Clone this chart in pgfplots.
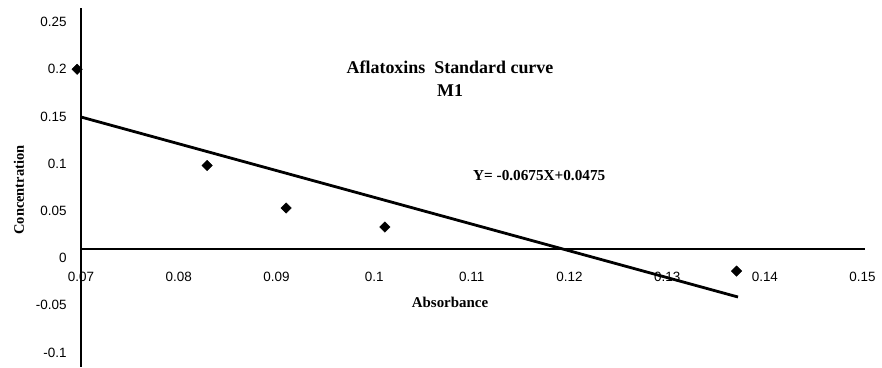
\documentclass[border=0pt]{standalone}
\usepackage{fontspec}
\setmainfont{Liberation Serif}
\newfontfamily\arialf{Liberation Sans}
\usepackage{pgfplots}
\pgfplotsset{compat=1.18}
\begin{document}
\begin{tikzpicture}
\begin{axis}[
  width=882bp, height=367bp, scale only axis,
  xmin=0.06171, xmax=0.15198, ymin=-0.11547, ymax=0.2733,
  axis line style={draw=none}, major tick length=0pt,
  clip=false,
  xtick={0.07,0.08,0.09,0.1,0.11,0.12,0.13,0.14,0.15},
  xticklabels={0.07,0.08,0.09,0.1,0.11,0.12,0.13,0.14,0.15},
  ytick={-0.1,-0.05,0,0.05,0.1,0.15,0.2,0.25},
  yticklabels={-0.1,-0.05,0,0.05,0.1,0.15,0.2,0.25},
  xticklabel style={font=\arialf\fontsize{13.5}{14}\selectfont, anchor=center, yshift=90bp},
  yticklabel style={font=\arialf\fontsize{13.5}{14}\selectfont, anchor=east, xshift=70bp},
]
% axes lines
\draw[line width=1.8bp] (axis cs:0.07,0.2648) -- (axis cs:0.07,-0.1155);
\draw[line width=1.8bp] (axis cs:0.07,0.0095) -- (axis cs:0.15025,0.0095);
% trend line
\addplot[black, line width=2.8bp, no marks] coordinates {(0.07,0.1494) (0.13725,-0.0413)};
% data points
\addplot[only marks, mark=square*, mark size=3.7bp, mark options={rotate=45, fill=black, draw=black}]
  coordinates {(0.0696,0.2) (0.0829,0.098) (0.0910,0.053) (0.1011,0.0328) (0.1371,-0.0138)};
% texts
\node[font=\bfseries\fontsize{18}{23}\selectfont, align=center] at (axis cs:0.10777,0.1901) {Aflatoxins\ \ Standard curve\\M1};
\node[font=\bfseries\fontsize{15.3}{17}\selectfont, anchor=west, inner sep=0pt] at (axis cs:0.11012,0.0879) {Y= -0.0675X+0.0475};
\node[font=\bfseries\fontsize{15}{17}\selectfont] at (axis cs:0.10777,-0.0466) {Absorbance};
\node[font=\bfseries\fontsize{14.5}{16}\selectfont, rotate=90] at (axis cs:0.06365,0.072) {Concentration};
\end{axis}
\end{tikzpicture}
\end{document}
